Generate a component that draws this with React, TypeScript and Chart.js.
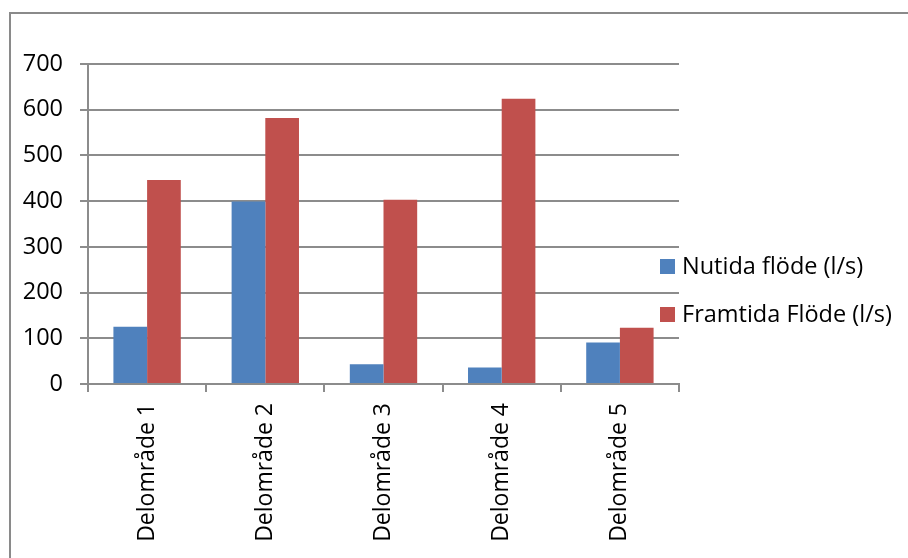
import React, { useEffect, useRef } from "react";
import { Chart, registerables } from "chart.js";

Chart.register(...registerables);

const categories = ["Delområde 1", "Delområde 2", "Delområde 3", "Delområde 4", "Delområde 5"];
const seriesNames = ["Nutida flöde (l/s)", "Framtida Flöde (l/s)"];
const nutidaValues = [125, 399, 43, 36, 91];
const framtidaValues = [446, 582, 403, 624, 123];
const yTicks = [0, 100, 200, 300, 400, 500, 600, 700];
const colors = ["#4F81BD", "#C0504D"];

const FONT = "'Open Sans', sans-serif";
const GRID = "#8c8c8c";

const legendPlugin = {
  id: "excelLegend",
  afterDraw(chart: any) {
    const ctx = chart.ctx as CanvasRenderingContext2D;
    const items = chart.data.datasets;
    ctx.save();
    ctx.font = `23.5px ${FONT}`;
    ctx.textBaseline = "middle";
    ctx.textAlign = "left";
    const ys = [266, 314];
    items.forEach((ds: any, i: number) => {
      ctx.fillStyle = ds.backgroundColor;
      ctx.fillRect(660, ys[i] - 7, 15, 15);
      ctx.fillStyle = "#000";
      ctx.fillText(ds.label, 682, ys[i] + 1);
    });
    ctx.restore();
  },
};

export default function App() {
  const ref = useRef<HTMLCanvasElement | null>(null);
  useEffect(() => {
    if (!ref.current) return;
    const chart = new Chart(ref.current, {
      type: "bar",
      data: {
        labels: categories,
        datasets: [
          { label: seriesNames[0], data: nutidaValues, backgroundColor: colors[0] },
          { label: seriesNames[1], data: framtidaValues, backgroundColor: colors[1] },
        ],
      },
      options: {
        responsive: false,
        animation: false,
        devicePixelRatio: 1,
        layout: { padding: { left: 0, right: 229, top: 64, bottom: 0 } },
        datasets: { bar: { categoryPercentage: 0.57, barPercentage: 1 } },
        plugins: { legend: { display: false }, tooltip: { enabled: false } },
        scales: {
          x: {
            afterFit: (s: any) => { s.height = 174; },
            grid: { drawOnChartArea: false, drawTicks: true, tickLength: 8, color: GRID, lineWidth: 2 },
            border: { display: true, color: GRID, width: 2 },
            ticks: {
              minRotation: 90,
              maxRotation: 90,
              autoSkip: false,
              padding: 11,
              color: "#000",
              font: { family: FONT, size: 23 },
            },
          },
          y: {
            min: 0,
            max: 700,
            afterFit: (s: any) => { s.width = 88; },
            afterBuildTicks: (s: any) => { s.ticks = yTicks.map((v) => ({ value: v })); },
            grid: { color: GRID, lineWidth: 2, tickLength: 8 },
            border: { display: true, color: GRID, width: 2 },
            ticks: {
              stepSize: 100,
              padding: 17,
              color: "#000",
              font: { family: FONT, size: 23.5 },
            },
          },
        },
      },
      plugins: [legendPlugin],
    });
    return () => chart.destroy();
  }, []);

  return (
    <div style={{ position: "fixed", left: 0, top: 0, width: 908, height: 558, background: "#fff", overflow: "hidden" }}>
      <div
        style={{
          position: "absolute",
          left: 9,
          top: 12,
          width: 920,
          height: 600,
          border: "2px solid #8a8a8a",
          boxSizing: "border-box",
        }}
      />
      <canvas ref={ref} width={908} height={558} style={{ position: "absolute", left: 0, top: 0, width: 908, height: 558 }} />
    </div>
  );
}
